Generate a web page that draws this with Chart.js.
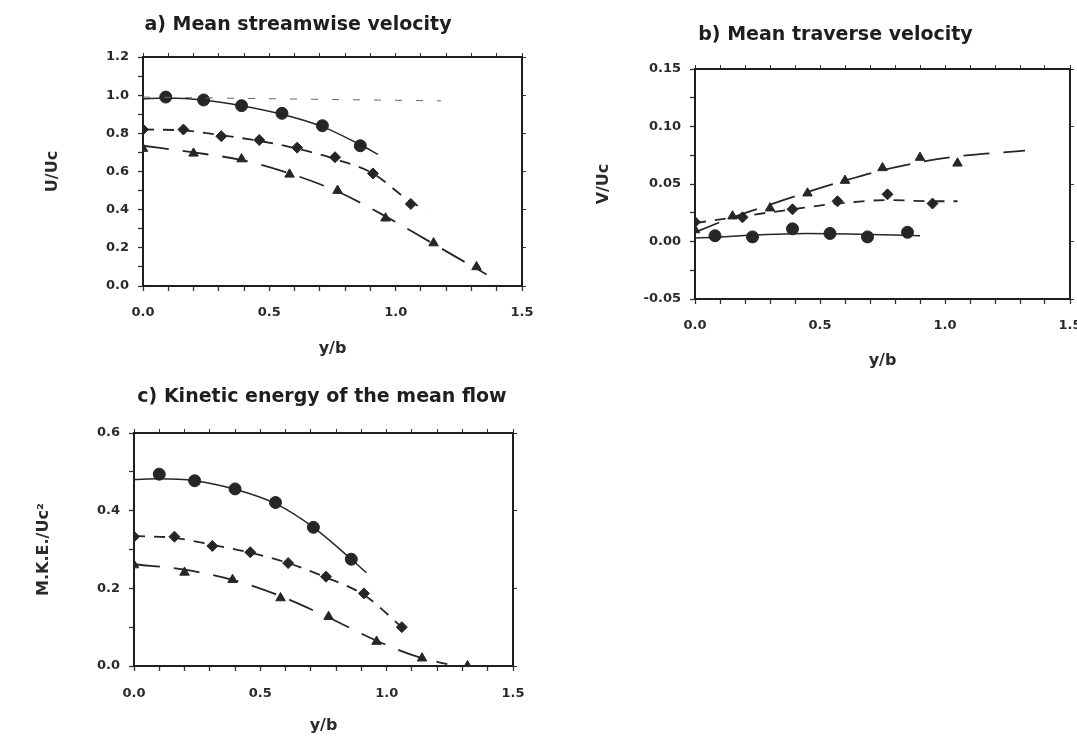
<!DOCTYPE html>
<html>
<head>
<meta charset="utf-8">
<script src="https://cdn.jsdelivr.net/npm/chart.js@4"></script>
<style>
  html,body{margin:0;padding:0;background:#fff;width:1077px;height:740px;overflow:hidden;position:relative}
  canvas{position:absolute}
</style>
</head>
<body>
<canvas id="chartA" width="516" height="370" style="left:40px;top:0px"></canvas>
<canvas id="chartB" width="521" height="370" style="left:575px;top:10px"></canvas>
<canvas id="chartC" width="644" height="370" style="left:0px;top:370px"></canvas>
<script>
// a) mean streamwise velocity
const aCircleX=[0.09,0.24,0.39,0.55,0.71,0.86]
const aCircleY=[0.99,0.975,0.945,0.905,0.84,0.735]
const aDiamondX=[0.0,0.16,0.31,0.46,0.61,0.76,0.91,1.06]
const aDiamondY=[0.82,0.82,0.785,0.765,0.725,0.675,0.59,0.43]
const aTriangleX=[0.0,0.2,0.39,0.58,0.77,0.96,1.15,1.32]
const aTriangleY=[0.72,0.695,0.665,0.585,0.5,0.355,0.225,0.1]
const aCircleFitX=[0,0.09,0.24,0.39,0.55,0.71,0.86,0.93]
const aCircleFitY=[0.98,0.985,0.975,0.945,0.9,0.835,0.74,0.69]
const aDiamondFitX=[0,0.16,0.31,0.46,0.61,0.76,0.91,1.06,1.12]
const aDiamondFitY=[0.82,0.815,0.79,0.76,0.72,0.665,0.59,0.44,0.4]
const aTriangleFitX=[0,0.2,0.39,0.58,0.77,0.96,1.15,1.36]
const aTriangleFitY=[0.735,0.7,0.66,0.59,0.495,0.365,0.22,0.06]
const aRefX=[0,1.18]
const aRefY=[0.99,0.97]

// b) mean traverse velocity
const bCircleX=[0.08,0.23,0.39,0.54,0.69,0.85]
const bCircleY=[0.005,0.004,0.011,0.007,0.004,0.008]
const bDiamondX=[0,0.19,0.39,0.57,0.77,0.95]
const bDiamondY=[0.017,0.021,0.028,0.035,0.041,0.033]
const bTriangleX=[0,0.15,0.3,0.45,0.6,0.75,0.9,1.05]
const bTriangleY=[0.01,0.022,0.029,0.042,0.053,0.064,0.073,0.068]
const bCircleFitX=[0,0.45,0.9]
const bCircleFitY=[0.003,0.007,0.005]
const bDiamondFitX=[0,0.19,0.39,0.57,0.77,0.95,1.05]
const bDiamondFitY=[0.016,0.022,0.028,0.033,0.036,0.035,0.035]
const bTriangleFitX=[0,0.15,0.3,0.45,0.6,0.75,0.9,1.05,1.32]
const bTriangleFitY=[0.008,0.021,0.032,0.043,0.053,0.062,0.069,0.074,0.079]

// c) kinetic energy of the mean flow
const cCircleX=[0.1,0.24,0.4,0.56,0.71,0.86]
const cCircleY=[0.494,0.477,0.456,0.421,0.357,0.275]
const cDiamondX=[0,0.16,0.31,0.46,0.61,0.76,0.91,1.06]
const cDiamondY=[0.333,0.333,0.309,0.293,0.265,0.23,0.187,0.1]
const cTriangleX=[0,0.2,0.39,0.58,0.77,0.96,1.14,1.32]
const cTriangleY=[0.26,0.241,0.222,0.175,0.127,0.063,0.02,0.0]
const cCircleFitX=[0,0.1,0.24,0.4,0.56,0.71,0.86,0.92]
const cCircleFitY=[0.48,0.482,0.477,0.455,0.418,0.357,0.275,0.24]
const cDiamondFitX=[0,0.16,0.31,0.46,0.61,0.76,0.91,1.08]
const cDiamondFitY=[0.335,0.33,0.312,0.292,0.265,0.228,0.183,0.088]
const cTriangleFitX=[0,0.2,0.39,0.58,0.77,0.96,1.14,1.24]
const cTriangleFitY=[0.262,0.248,0.222,0.18,0.125,0.065,0.02,0.005]

const ink="#262626"
const FONT="'DejaVu Sans', sans-serif"

function pts(xs,ys){ return xs.map((x,i)=>({x:x,y:ys[i]})) }

function markers(xs,ys,style,r){
    return {data:pts(xs,ys),showLine:false,pointStyle:style,pointRadius:r,
        backgroundColor:ink,borderColor:ink,borderWidth:1}
}
function curve(xs,ys,dash,width,color){
    return {data:pts(xs,ys),showLine:true,pointRadius:0,borderColor:color||ink,
        borderWidth:width||1.5,borderDash:dash,cubicInterpolationMode:"monotone",fill:false}
}
function isMult(v,m){ return Math.abs(v/m-Math.round(v/m))<1e-6 }

function makeChart(id,cfg){
    new Chart(document.getElementById(id),{
        type:"scatter",
        data:{datasets:cfg.datasets},
        options:{
            responsive:false,animation:false,devicePixelRatio:1,
            layout:{padding:0},
            plugins:{
                legend:{display:false},tooltip:{enabled:false},
                title:{display:true,text:cfg.title,color:"#1e1e1e",
                    font:{family:FONT,size:19,weight:"bold"},
                    padding:{top:cfg.titleTop,bottom:cfg.titleBottom}}
            },
            scales:{
                x:{type:"linear",position:"bottom",min:0,max:1.5,
                    afterFit:s=>{s.height=cfg.xHeight},
                    ticks:{stepSize:0.1,autoSkip:false,maxRotation:0,padding:cfg.xTickPad,color:"#2a2a2a",
                        font:{family:FONT,size:13,weight:"bold"},
                        callback:v=>isMult(v,0.5)?v.toFixed(1):""},
                    grid:{drawOnChartArea:false,tickLength:5,color:"#333",tickWidth:1.3},
                    border:{color:"#1e1e1e",width:2},
                    title:{display:true,text:"y/b",color:"#2a2a2a",font:{family:FONT,size:16,weight:"bold"},
                        padding:{top:0,bottom:cfg.xTitleBottom}}},
                x2:{type:"linear",position:"top",min:0,max:1.5,
                    afterFit:s=>{s.height=4},
                    ticks:{display:false,stepSize:0.1},
                    grid:{drawOnChartArea:false,tickLength:4,color:"#333"},
                    border:{color:"#1e1e1e",width:2}},
                y:{type:"linear",position:"left",min:cfg.yMin,max:cfg.yMax,
                    afterFit:s=>{s.width=cfg.yWidth},
                    ticks:{stepSize:cfg.yStep,autoSkip:false,padding:9,color:"#2a2a2a",
                        font:{family:FONT,size:13,weight:"bold"},
                        callback:v=>isMult(v,cfg.yLabelStep)?v.toFixed(cfg.yDigits):""},
                    grid:{drawOnChartArea:false,tickLength:5,color:"#333",tickWidth:1.3},
                    border:{color:"#1e1e1e",width:2},
                    title:{display:true,text:cfg.yTitle,color:"#2a2a2a",font:{family:FONT,size:cfg.yTitleSize,weight:"bold"},
                        padding:{top:cfg.yTitlePad,bottom:0}}},
                y2:{type:"linear",position:"right",min:cfg.yMin,max:cfg.yMax,
                    afterFit:s=>{s.width=cfg.y2Width},
                    ticks:{display:false,stepSize:cfg.yStep*2},
                    grid:{drawOnChartArea:false,tickLength:4,color:"#333"},
                    border:{color:"#1e1e1e",width:2}}
            }
        }
    })
}

makeChart("chartA",{
    title:"a) Mean streamwise velocity",titleTop:13.6,titleBottom:16.6,
    y2Width:34,xHeight:84,xTickPad:14,xTitleBottom:12,
    yMin:0,yMax:1.2,yStep:0.1,yLabelStep:0.2,yDigits:1,yWidth:103,
    yTitle:"U/Uc",yTitleSize:16,yTitlePad:3,
    datasets:[
        curve(aRefX,aRefY,[7,14],1,"#666"),
        curve(aCircleFitX,aCircleFitY,[],1.5),
        curve(aDiamondFitX,aDiamondFitY,[11,9],1.8),
        curve(aTriangleFitX,aTriangleFitY,[26,14],1.8),
        markers(aCircleX,aCircleY,"circle",6),
        markers(aDiamondX,aDiamondY,"rectRot",5.5),
        markers(aTriangleX,aTriangleY,"triangle",5.5)
    ]
})

makeChart("chartB",{
    title:"b) Mean traverse velocity",titleTop:13.6,titleBottom:18.6,
    y2Width:26,xHeight:81,xTickPad:14,xTitleBottom:10,
    yMin:-0.05,yMax:0.15,yStep:0.025,yLabelStep:0.05,yDigits:2,yWidth:120,
    yTitle:"V/Uc",yTitleSize:16,yTitlePad:19,
    datasets:[
        curve(bCircleFitX,bCircleFitY,[],1.5),
        curve(bDiamondFitX,bDiamondFitY,[11,9],1.8),
        curve(bTriangleFitX,bTriangleFitY,[26,14],1.8),
        markers(bCircleX,bCircleY,"circle",6),
        markers(bDiamondX,bDiamondY,"rectRot",5.5),
        markers(bTriangleX,bTriangleY,"triangle",5.5)
    ]
})

makeChart("chartC",{
    title:"c) Kinetic energy of the mean flow",titleTop:15.6,titleBottom:20.6,
    y2Width:131,xHeight:74,xTickPad:15,xTitleBottom:5,
    yMin:0,yMax:0.6,yStep:0.1,yLabelStep:0.2,yDigits:1,yWidth:134,
    yTitle:"M.K.E./Uc²",yTitleSize:16,yTitlePad:34,
    datasets:[
        curve(cCircleFitX,cCircleFitY,[],1.5),
        curve(cDiamondFitX,cDiamondFitY,[11,9],1.8),
        curve(cTriangleFitX,cTriangleFitY,[26,14],1.8),
        markers(cCircleX,cCircleY,"circle",6),
        markers(cDiamondX,cDiamondY,"rectRot",5.5),
        markers(cTriangleX,cTriangleY,"triangle",5.5)
    ]
})
</script>
</body>
</html>
